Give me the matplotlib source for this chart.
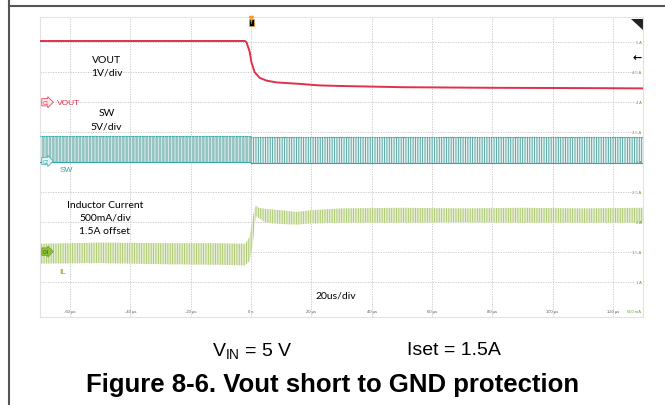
import matplotlib
matplotlib.use("Agg")
import matplotlib.pyplot as plt
from matplotlib.lines import Line2D
from matplotlib.patches import Polygon

plt.rcParams['font.family'] = ['Liberation Sans', 'DejaVu Sans']
plt.rcParams['hatch.linewidth'] = 0.6

# time axis (us) and scope screen levels, expressed on the IL scale (A)
x_ticks = [-60, -40, -20, 0, 20, 40, 60, 80, 100, 120]
x_tick_labels = ['-60 µs', '-40 µs', '-20 µs', '0 s', '20 µs', '40 µs',
                 '60 µs', '80 µs', '100 µs', '120 µs']
y_ticks = [1.0, 1.5, 2.0, 2.5, 3.0, 3.5, 4.0, 4.5, 5.0]
y_tick_labels = ['1 A', '1.5 A', '2 A', '2.5 A', '3 A', '3.5 A', '4 A', '4.5 A', '5 A']

# VOUT trace
t_vout = [-70, -2, -1.5, -0.4, 0.1, 1.2, 2.9, 5.1, 8.4, 16.2, 22.6, 30, 50, 80, 110, 130]
vout = [5.02, 5.02, 5.0, 4.83, 4.67, 4.5, 4.405, 4.36, 4.33, 4.305, 4.28, 4.27,
        4.25, 4.24, 4.235, 4.23]

# SW switching envelope, before and after the short
t_sw_pre = [-70, 0]
sw_pre_hi = [3.44, 3.44]
sw_pre_lo = [3.0, 3.0]
t_sw_post = [0, 130]
sw_post_hi = [3.42, 3.42]
sw_post_lo = [2.98, 2.98]

# inductor current ripple envelope
t_il = [-70, -50, -30, -10, -2, -0.5, 0.5, 1.2, 1.6, 2.5, 5, 10, 15, 20,
        30, 50, 70, 90, 110, 130]
il_hi = [1.64, 1.66, 1.65, 1.65, 1.64, 1.75, 2.05, 2.22, 2.28, 2.24, 2.22, 2.2,
         2.17, 2.2, 2.23, 2.24, 2.23, 2.24, 2.23, 2.24]
il_lo = [1.31, 1.32, 1.30, 1.29, 1.28, 1.35, 1.6, 1.95, 2.1, 2.07, 1.99, 1.97,
         1.96, 1.98, 1.99, 1.99, 2.0, 1.99, 1.99, 1.99]

RED = '#e0304a'
TEAL = '#2fa9a6'
GREEN = '#8ab43a'

fig = plt.figure(figsize=(6.65, 4.06), dpi=100)
ax = fig.add_axes([40 / 665, 1 - 318 / 406, 603 / 665, 300 / 406])
ax.set_xlim(-70, 130)
ax.set_ylim(0.42, 5.42)

# grid
ax.vlines(x_ticks, 0.42, 5.42, colors='#c4c4c4', linewidth=0.6,
          linestyles=(0, (1.5, 1.5)), zorder=0)
ax.hlines(y_ticks, -70, 127, colors='#c4c4c4', linewidth=0.6,
          linestyles=(0, (1.5, 1.5)), zorder=0)

# SW
ax.fill_between(t_sw_pre, sw_pre_lo, sw_pre_hi, facecolor='#93c4c1',
                edgecolor='#e8f3f2', hatch='|' * 5, linewidth=0, zorder=2)
ax.fill_between(t_sw_post, sw_post_lo, sw_post_hi, facecolor='#e2f0ef',
                edgecolor='#4d9f9c', hatch='|' * 7, linewidth=0, zorder=2)
ax.plot(t_sw_pre + t_sw_post, sw_pre_hi + sw_post_hi, color=TEAL, lw=0.8,
        ls=(0, (1, 0.6)), zorder=3)
ax.plot(t_sw_pre + t_sw_post, sw_pre_lo + sw_post_lo, color=TEAL, lw=0.8, zorder=3)

# IL
ax.fill_between(t_il, il_lo, il_hi, facecolor='#e7efd2', edgecolor='#a6c566',
                hatch='|' * 7, linewidth=0, zorder=2)

# VOUT
ax.plot(t_vout, vout, color=RED, lw=1.4, zorder=4)

# scale labels
for y, lab in zip(y_ticks, y_tick_labels):
    ax.text(129.5, y, lab, fontsize=3, color='#6a9a2a', ha='right', va='center')
ax.text(129.5, 0.52, '500 mA', fontsize=3, color='#6a9a2a', ha='right', va='center')
for x, lab in zip(x_ticks, x_tick_labels):
    ax.text(x, 0.52, lab, fontsize=3, color='#555555', ha='center', va='center')

# channel tags
ax.text(-69.0, 4.0, 'C1', fontsize=3.5, color=RED, va='center',
        bbox=dict(boxstyle='rarrow,pad=0.25', fc='#fbe4e7', ec=RED, lw=0.5))
ax.text(-64.3, 4.0, 'VOUT', fontsize=6, color=RED, va='center')
ax.text(-69.0, 3.02, 'C2', fontsize=3.5, color=TEAL, va='center',
        bbox=dict(boxstyle='rarrow,pad=0.25', fc='#e3f4f3', ec=TEAL, lw=0.5))
ax.text(-63.5, 2.88, 'SW', fontsize=6, color=TEAL, va='center')
ax.text(-69.0, 1.51, 'C4', fontsize=3.5, color='#3a5a10', va='center',
        bbox=dict(boxstyle='rarrow,pad=0.25', fc='#8fc23a', ec='#6a9a2a', lw=0.5))
ax.text(-63.5, 1.17, 'IL', fontsize=6, color='#7aa52e', va='center')

# annotations
note = dict(fontsize=7.5, family=['Lato', 'DejaVu Sans'], ha='center', va='center')
ax.text(-47.9, 4.71, 'VOUT', **note)
ax.text(-47.9, 4.5, '1V/div', **note)
ax.text(-47.9, 3.83, 'SW', **note)
ax.text(-47.9, 3.6, '5V/div', **note)
ax.text(-48.5, 2.3, 'Inductor Current', **note)
ax.text(-48.5, 2.08, '500mA/div', **note)
ax.text(-48.5, 1.855, '1.5A offset', **note)
ax.text(28.1, 0.79, '20us/div', **note)

# trigger marker, corner flag and level arrow
ax.plot([0], [5.41], marker='v', ms=3, color='#f0a030', clip_on=False, zorder=5)
ax.text(0, 5.33, 'T', fontsize=3, color='#f0a030', ha='center', va='center',
        fontweight='bold', bbox=dict(boxstyle='square,pad=0.3', fc='black',
                                     ec='#f0a030', lw=0.5))
ax.add_patch(Polygon([(0.98, 0.993), (1.0, 0.993), (1.0, 0.957)], closed=True,
                     transform=ax.transAxes, fc='#222222', ec='none'))
ax.text(0.99, 0.867, '←', transform=ax.transAxes, fontsize=8, fontweight='bold',
        ha='center', va='center', family='DejaVu Sans')

for s in ax.spines.values():
    s.set_color('#e2e2e2')
    s.set_linewidth(0.8)
ax.set_xticks([])
ax.set_yticks([])

# page frame
fig.add_artist(Line2D([8.5 / 665, 1], [1 - 7 / 406, 1 - 7 / 406], color='#555555', lw=1.5))
fig.add_artist(Line2D([8.5 / 665, 8.5 / 665], [0, 1], color='#555555', lw=1.5))

# caption
fig.text(252 / 665, 1 - 351 / 406, r'$\mathregular{V_{IN}}$ = 5 V', fontsize=14,
         ha='center', va='center')
fig.text(454 / 665, 1 - 351 / 406, 'Iset = 1.5A', fontsize=14, ha='center', va='center')
fig.text(333 / 665, 1 - 385 / 406, 'Figure 8-6. Vout short to GND protection',
         fontsize=18.5, fontweight='bold', ha='center', va='center')

fig.savefig('out.png', dpi=100)
